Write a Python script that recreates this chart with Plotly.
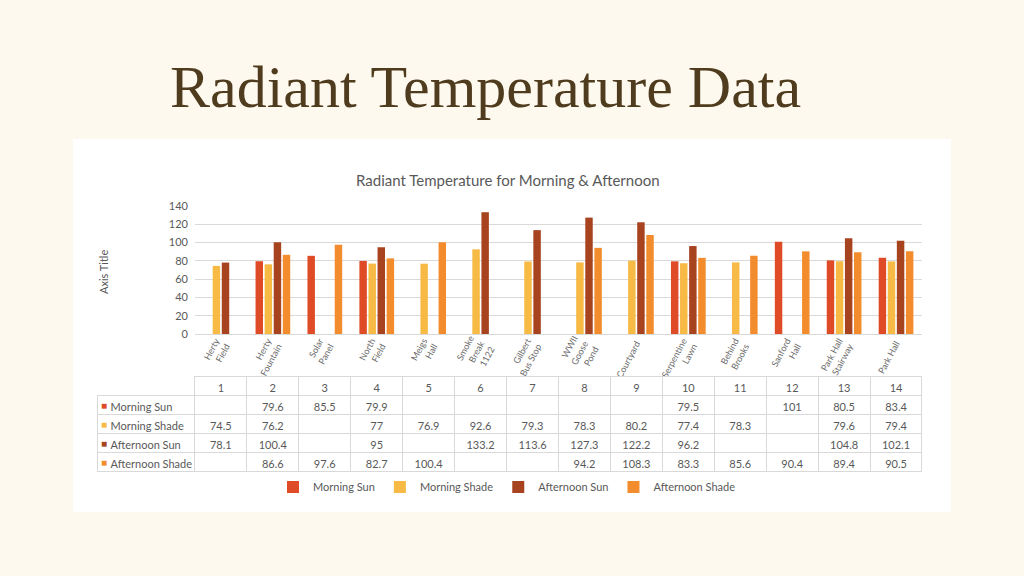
import plotly.graph_objects as go

# locais medidos
sites = ["Herty<br>Field", "Herty<br>Fountain", "Solar<br>Panel", "North<br>Field", "Meigs<br>Hall",
         "Smoke<br>Break<br>1122", "Gilbert<br>Bus Stop", "WWII<br>Goose<br>Pond", "Courtyard",
         "Serpentine<br>Lawn", "Behind<br>Brooks", "Sanford<br>Hall", "Park Hall<br>Stairway", "Park Hall"]
site_ids = ["1", "2", "3", "4", "5", "6", "7", "8", "9", "10", "11", "12", "13", "14"]

morning_sun = [None, 79.6, 85.5, 79.9, None, None, None, None, None, 79.5, None, 101, 80.5, 83.4]
morning_shade = [74.5, 76.2, None, 77, 76.9, 92.6, 79.3, 78.3, 80.2, 77.4, 78.3, None, 79.6, 79.4]
afternoon_sun = [78.1, 100.4, None, 95, None, 133.2, 113.6, 127.3, 122.2, 96.2, None, None, 104.8, 102.1]
afternoon_shade = [None, 86.6, 97.6, 82.7, 100.4, None, None, 94.2, 108.3, 83.3, 85.6, 90.4, 89.4, 90.5]

series_names = ["Morning Sun", "Morning Shade", "Afternoon Sun", "Afternoon Shade"]
series_vals = [morning_sun, morning_shade, afternoon_sun, afternoon_shade]
cores = ["#E04B27", "#F6BA45", "#A8431F", "#F28C2C"]

W, H = 1024, 576
font = "Lato, 'Open Sans', sans-serif"
cinza = "#595959"

fig = go.Figure()

for nome, vals, cor in zip(series_names, series_vals, cores):
    fig.add_trace(go.Bar(x=sites, y=vals, name=nome, marker=dict(color=cor, line=dict(width=0))))

# tabela de dados abaixo do grafico
def fmt(v):
    return "" if v is None else f"{v:g}"

# nbsp para a tabela nao quebrar o nome em duas linhas
col0 = ["\u2002" + n.replace(" ", "\u00a0") for n in series_names]
cols = [col0]
for i in range(len(sites)):
    cols.append([fmt(s[i]) for s in series_vals])

tab_top, row_h = 376, 19
fig.add_trace(go.Table(
    domain=dict(x=[97 / W, 922 / W], y=[1 - (tab_top + 5 * row_h + 4) / H, 1 - tab_top / H]),
    columnwidth=[98] + [52] * len(sites),
    header=dict(values=[""] + site_ids, height=row_h,
                fill_color="white",
                line=dict(color=["rgba(0,0,0,0)"] + ["#D9D9D9"] * len(sites), width=1),
                align="center", font=dict(family=font, size=11, color=cinza)),
    cells=dict(values=cols, height=row_h, fill_color="white",
               line=dict(color="#D9D9D9", width=1),
               align=["left"] + ["center"] * len(sites),
               font=dict(family=font, size=11, color=cinza)),
))

# quadradinhos coloridos da tabela
chaves = []
for k, c in enumerate(cores):
    chaves.append(dict(text="■", x=104 / W, y=1 - (tab_top + row_h * (k + 1.5)) / H,
                       xref="paper", yref="paper", xanchor="center", yanchor="middle",
                       showarrow=False, font=dict(size=10, color=c)))

fig.update_layout(
    width=W, height=H,
    margin=dict(l=0, r=0, t=0, b=0),
    paper_bgcolor="#FEF9EE",
    plot_bgcolor="white",
    barmode="group", bargap=0.3, bargroupgap=0.18,
    font=dict(family=font, color=cinza),
    showlegend=True,
    legend=dict(orientation="h", x=507 / W, xanchor="center", y=1 - 487 / H, yanchor="middle",
                font=dict(size=11, color=cinza), bgcolor="rgba(0,0,0,0)", itemwidth=30),
    xaxis=dict(domain=[195 / W, 922 / W], tickangle=-62, tickfont=dict(size=9, color="#6A6A6A"),
               showline=True, linecolor="#D9D9D9", ticks="", automargin=False),
    yaxis=dict(domain=[1 - 334 / H, 1 - 206 / H], range=[0, 140], dtick=20,
               showgrid=True, gridcolor="#D9D9D9", zeroline=False,
               tickfont=dict(size=11, color=cinza), automargin=False, ticklabelstandoff=6),
    shapes=[dict(type="rect", xref="paper", yref="paper", x0=73 / W, x1=951 / W,
                 y0=1 - 512 / H, y1=1 - 139 / H, fillcolor="white", line=dict(width=0), layer="below")],
    annotations=[
        dict(text="Radiant Temperature Data", x=485 / W, y=1 - 87 / H, xref="paper", yref="paper",
             xanchor="center", yanchor="middle", showarrow=False,
             font=dict(family="'Liberation Serif', serif", size=60, color="#4F3B1D")),
        dict(text="Radiant Temperature for Morning & Afternoon", x=508 / W, y=1 - 180 / H,
             xanchor="center", yanchor="middle",
             xref="paper", yref="paper", showarrow=False, font=dict(family=font, size=15, color=cinza)),
        dict(text="Axis Title", x=103 / W, y=1 - 272 / H, xref="paper", yref="paper", textangle=-90,
             xanchor="center", yanchor="middle",
             showarrow=False, font=dict(family=font, size=11, color=cinza)),
    ] + chaves,
)

fig.write_html("out.html", config={"displayModeBar": False},
               post_script="document.body.style.margin='0';document.body.style.overflow='hidden';")
